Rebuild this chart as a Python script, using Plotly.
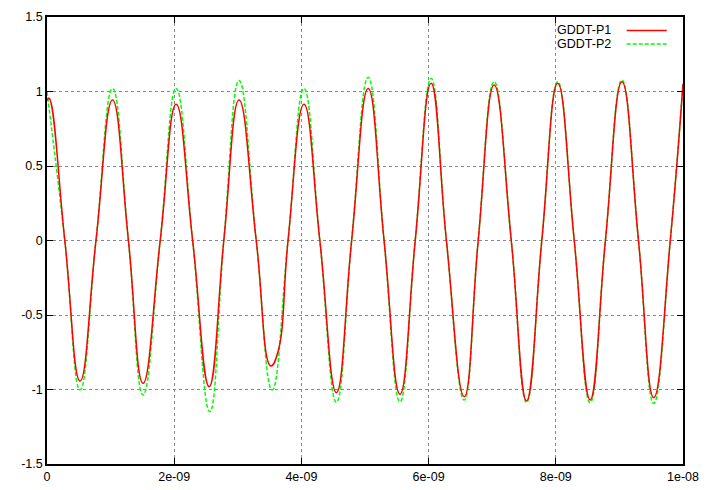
import plotly.graph_objects as go

# time in ns (converted to seconds for the axis)
t_red_ns = [0, 0.03, 0.28, 0.52, 0.77, 1.03, 1.28, 1.51, 1.78, 2.03, 2.29, 2.55, 2.78,
            3.02, 3.29, 3.52, 3.63, 3.79, 4.04, 4.29, 4.55, 4.79, 5.05, 5.30, 5.55, 5.79,
            6.04, 6.28, 6.56, 6.78, 7.03, 7.30, 7.54, 7.78, 8.03, 8.29, 8.54, 8.78,
            9.04, 9.30, 9.54, 9.80, 10.0]
p1 = [0.94, 0.955, 0, -0.943, 0, 0.943, 0, -0.958, 0, 0.914, 0, -0.981, 0,
      0.943, 0, -0.842, -0.75, 0, 0.914, 0, -1.021, 0, 1.02, 0, -1.032, 0,
      1.055, 0, -1.048, 0, 1.044, 0, -1.077, 0, 1.055, 0, -1.07, 0,
      1.066, 0, -1.055, 0, 1.05]

t_green_ns = [0, 0.28, 0.52, 0.77, 1.03, 1.28, 1.51, 1.78, 2.03, 2.29, 2.56, 2.78,
              3.02, 3.29, 3.54, 3.79, 4.04, 4.29, 4.55, 4.79, 5.05, 5.30, 5.55, 5.79,
              6.04, 6.28, 6.56, 6.78, 7.03, 7.30, 7.54, 7.78, 8.03, 8.29, 8.54, 8.78,
              9.04, 9.30, 9.54, 9.80, 10.0]
p2 = [1.0, 0, -1.003, 0, 1.02, 0, -1.037, 0, 1.02, 0, -1.149, 0,
      1.073, 0, -1.003, 0, 1.02, 0, -1.086, 0, 1.095, 0, -1.082, 0,
      1.088, 0, -1.07, 0, 1.066, 0, -1.086, 0, 1.066, 0, -1.089, 0,
      1.077, 0, -1.093, 0, 1.06]

x_ticks = [0, 2e-9, 4e-9, 6e-9, 8e-9, 1e-8]
x_tick_labels = ["0", "2e-09", "4e-09", "6e-09", "8e-09", "1e-08"]
y_ticks = [-1.5, -1, -0.5, 0, 0.5, 1, 1.5]
y_tick_labels = ["-1.5", "-1", "-0.5", "0", "0.5", "1", "1.5"]
names = ["GDDT-P1", "GDDT-P2"]

FONT = "Liberation Sans, Arial, sans-serif"

fig = go.Figure()
fig.add_trace(go.Scatter(x=[v * 1e-9 for v in t_green_ns], y=p2, mode="lines", name=names[1],
                         line=dict(color="#00ff00", width=1.5, dash="4px,2px",
                                   shape="spline", smoothing=1.3),
                         showlegend=False))
fig.add_trace(go.Scatter(x=[v * 1e-9 for v in t_red_ns], y=p1, mode="lines", name=names[0],
                         line=dict(color="#ff0000", width=1.5, shape="spline", smoothing=1.3),
                         showlegend=False))

axis_common = dict(showline=True, linecolor="black", linewidth=1.5, mirror="ticks",
                   ticks="inside", ticklen=6, tickcolor="black", tickwidth=1,
                   showgrid=True, gridcolor="#888888", griddash="dot", gridwidth=1,
                   zeroline=False, automargin=False,
                   tickfont=dict(family=FONT, size=12.5, color="black"))

fig.update_xaxes(range=[0, 1e-8], tickvals=x_ticks, ticktext=x_tick_labels, **axis_common)
fig.update_yaxes(range=[-1.5, 1.5], tickvals=y_ticks, ticktext=y_tick_labels, **axis_common)

# gnuplot-style key: text on the left, line sample on the right
key_y = [0.9698, 0.9396]
colors = ["#ff0000", "#00ff00"]
dashes = ["solid", "4px,2px"]
for i in range(2):
    fig.add_annotation(x=0.8895, y=key_y[i], xref="paper", yref="paper", text=names[i],
                       showarrow=False, xanchor="right", yanchor="middle",
                       font=dict(family=FONT, size=12.5, color="black"))
    fig.add_shape(type="line", xref="paper", yref="paper", x0=0.9115, x1=0.9744,
                  y0=key_y[i], y1=key_y[i], line=dict(color=colors[i], width=1.5, dash=dashes[i]))

fig.update_layout(width=706, height=490, margin=dict(l=47, r=23, t=17, b=26, autoexpand=False),
                  paper_bgcolor="white", plot_bgcolor="white",
                  font=dict(family=FONT, size=12.5, color="black"))

fig.write_html("out.html")
